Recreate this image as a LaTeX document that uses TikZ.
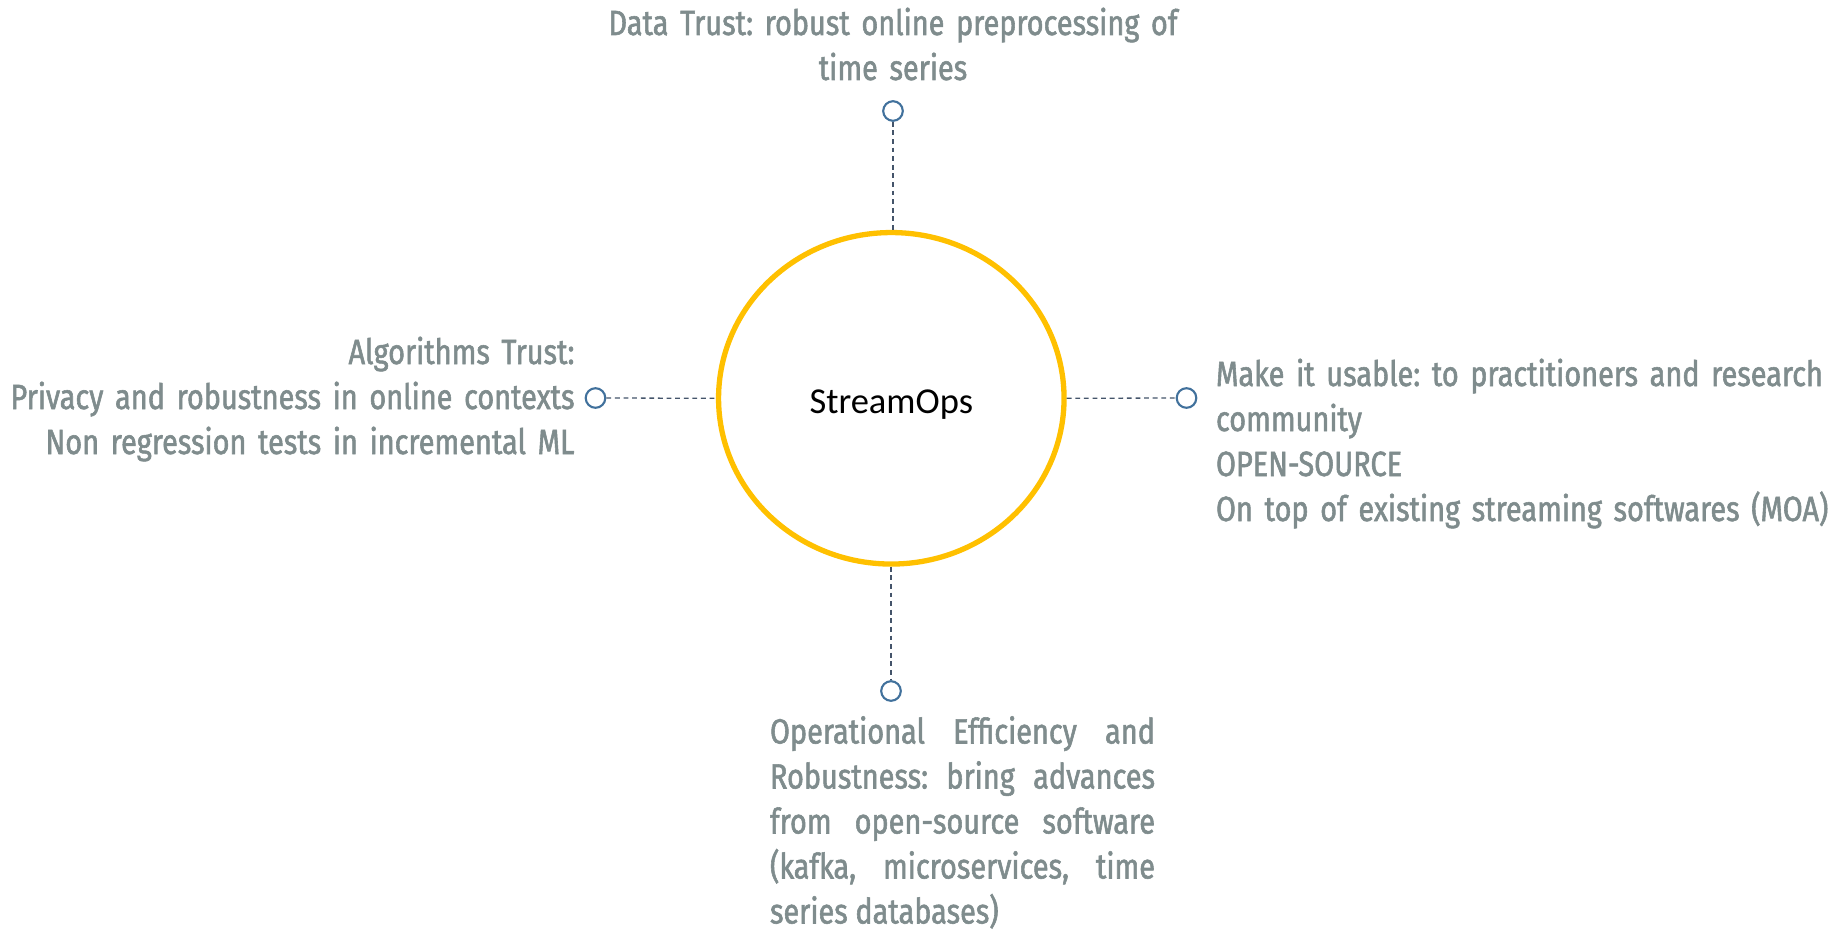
\documentclass[tikz,border=0pt]{standalone}
\usepackage{fontspec}
\setmainfont{Carlito}
\newfontfamily\graysans[FakeStretch=0.825,FakeBold=1.6]{Fira Sans}
\usetikzlibrary{shapes.geometric}
\definecolor{txtgray}{HTML}{7F8C8D}
\definecolor{hubgold}{HTML}{FFC000}
\definecolor{mkblue}{HTML}{41719C}
\definecolor{dashc}{HTML}{44546A}
\tikzset{
  hub/.style={ellipse, draw=hubgold, line width=2.65pt, minimum width=172.75pt,
    minimum height=165.75pt, inner sep=0pt, text height=15pt, text depth=0pt,
    font=\fontsize{18.25pt}{22pt}\selectfont, text=black},
  marker/.style={circle, draw=mkblue, line width=1.05pt, minimum size=9.8pt, inner sep=0pt, fill=white},
  link/.style={draw=dashc, line width=0.65pt, dash pattern=on 2.4pt off 1.9pt},
  label/.style={inner sep=0pt, outer sep=0pt, text=txtgray,
    font=\graysans\fontsize{17.5pt}{22.5pt}\selectfont\frenchspacing}
}
\begin{document}
\begin{tikzpicture}[x=0.5pt,y=-0.5pt]
\useasboundingbox (0,0) rectangle (1846,931);
\node[hub] (hub) at (891.3,398.3) {StreamOps};
\node[marker] (mt) at (893,111) {};
\node[marker] (ml) at (595.5,398) {};
\node[marker] (mr) at (1186.5,398) {};
\node[marker] (mb) at (891,691) {};
\draw[link] (mt.south) -- (mt.south |- hub.north);
\draw[link] (ml.east) -- (hub.west);
\draw[link] (hub.east) -- (mr.west);
\draw[link] (mb.north |- hub.south) -- (mb.north);
\node[label, text width=300pt, align=center, anchor=base] (tt) at (893,35)
  {Data Trust: robust online preprocessing of\\time series};
\node[label, text width=300pt, align=right, anchor=base east] (lt) at (574.5,364)
  {Algorithms Trust:\\Privacy and robustness in online contexts\\Non regression tests in incremental ML};
\node[label, text width=320pt, align=left, anchor=base west] (rt) at (1216,386)
  {Make it usable: to practitioners and research\\community\\OPEN-SOURCE\\On top of existing streaming softwares (MOA)};
\node[label, text width=192.5pt, align=justify, anchor=base west] (bt) at (770,743.5)
  {\hyphenpenalty=10000 \emergencystretch=20pt Operational Efficiency and\linebreak Robustness: bring advances\linebreak from open-source software\linebreak (kafka, microservices, time\linebreak series databases)};
\end{tikzpicture}
\end{document}
